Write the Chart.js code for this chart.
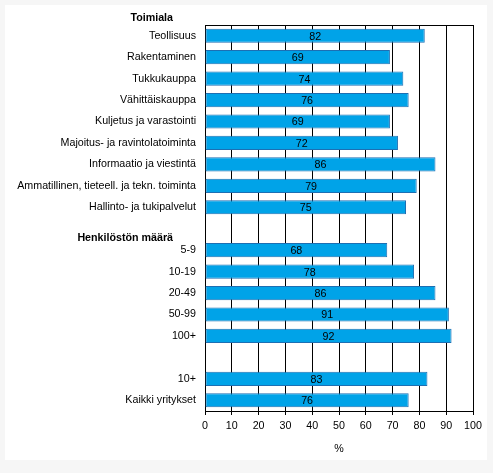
<!DOCTYPE html>
<html>
<head>
<meta charset="utf-8">
<script src="https://cdn.jsdelivr.net/npm/chart.js@4.4.1/dist/chart.umd.min.js"></script>
<style>
    html, body { margin: 0; padding: 0; background: #f6f6f6; }
    #wrap { position: relative; width: 493px; height: 473px; }
</style>
</head>
<body>
<div id="wrap"><canvas id="myBarChart" width="493" height="473"></canvas></div>
<script>
// Otsikot ryhmille
var groupToimiala = 'Toimiala';
var groupHenkilosto = 'Henkilöstön määrä';

var categories = [
    'Teollisuus',
    'Rakentaminen',
    'Tukkukauppa',
    'Vähittäiskauppa',
    'Kuljetus ja varastointi',
    'Majoitus- ja ravintolatoiminta',
    'Informaatio ja viestintä',
    'Ammatillinen, tieteell. ja tekn. toiminta',
    'Hallinto- ja tukipalvelut',
    '',
    '5-9',
    '10-19',
    '20-49',
    '50-99',
    '100+',
    '',
    '10+',
    'Kaikki yritykset'
];

var values = [82, 69, 74, 76, 69, 72, 86, 79, 75, null, 68, 78, 86, 91, 92, null, 83, 76];

var xTicks = [0, 10, 20, 30, 40, 50, 60, 70, 80, 90, 100];

var fontFamily = '"Liberation Sans", Arial, sans-serif';
var fontSize = 10.7;

// Valkoinen pohja, yläreuna, ryhmäotsikot ja arvot palkkien keskelle
var extrasPlugin = {
    id: 'extras',
    beforeDraw: function(chart) {
        var c = chart.ctx;
        c.save();
        c.fillStyle = '#ffffff';
        c.fillRect(5, 5, 482, 455);
        c.restore();
    },
    afterDraw: function(chart) {
        var c = chart.ctx;
        var area = chart.chartArea;
        var yScale = chart.scales.y;
        c.save();
        // yläreuna
        c.strokeStyle = '#000000';
        c.lineWidth = 1;
        c.beginPath();
        c.moveTo(area.left, Math.round(area.top) + 0.5);
        c.lineTo(area.right, Math.round(area.top) + 0.5);
        c.stroke();

        // ryhmäotsikot
        c.fillStyle = '#000000';
        c.font = 'bold ' + fontSize + 'px ' + fontFamily;
        c.textAlign = 'right';
        c.textBaseline = 'middle';
        c.fillText(groupToimiala, area.left - 32, area.top - 7);
        c.fillText(groupHenkilosto, area.left - 32, yScale.getPixelForValue(9) + 9);

        // arvot
        c.font = fontSize + 'px ' + fontFamily;
        c.textAlign = 'center';
        var meta = chart.getDatasetMeta(0);
        meta.data.forEach(function(bar, i) {
            if (values[i] === null) return;
            var mid = (bar.x + bar.base) / 2;
            c.fillText(String(values[i]), mid, bar.y + 1);
        });
        c.restore();
    }
};

var ctx = document.getElementById('myBarChart').getContext('2d');
var chart = new Chart(ctx, {
    type: 'bar',
    data: {
        labels: categories,
        datasets: [{
            data: values,
            backgroundColor: '#00a3e8',
            borderColor: '#1d6fb3',
            borderWidth: 1,
            borderSkipped: false,
            barPercentage: 0.66,
            categoryPercentage: 1
        }]
    },
    options: {
        indexAxis: 'y',
        responsive: false,
        animation: false,
        devicePixelRatio: 1,
        layout: {
            padding: { top: 25, right: 20, bottom: 0, left: 0 }
        },
        scales: {
            x: {
                min: 0,
                max: 100,
                afterBuildTicks: function(scale) {
                    scale.ticks = xTicks.map(function(v) { return { value: v }; });
                },
                afterFit: function(scale) {
                    scale.height = 62;
                },
                grid: {
                    color: '#000000',
                    lineWidth: 1,
                    drawTicks: true,
                    tickLength: 4,
                    tickColor: '#000000'
                },
                border: { color: '#000000', width: 1 },
                ticks: {
                    color: '#000000',
                    padding: 5,
                    maxRotation: 0,
                    autoSkip: false,
                    font: { family: fontFamily, size: fontSize }
                },
                title: {
                    display: true,
                    text: '%',
                    color: '#000000',
                    padding: { top: 0, bottom: 18 },
                    font: { family: fontFamily, size: fontSize }
                }
            },
            y: {
                afterFit: function(scale) {
                    scale.width = 205;
                },
                grid: { display: false, drawTicks: false },
                border: { color: '#000000', width: 1 },
                ticks: {
                    color: '#000000',
                    padding: 9,
                    autoSkip: false,
                    font: { family: fontFamily, size: fontSize }
                }
            }
        },
        plugins: {
            legend: { display: false },
            tooltip: { enabled: false }
        }
    },
    plugins: [extrasPlugin]
});
</script>
</body>
</html>
